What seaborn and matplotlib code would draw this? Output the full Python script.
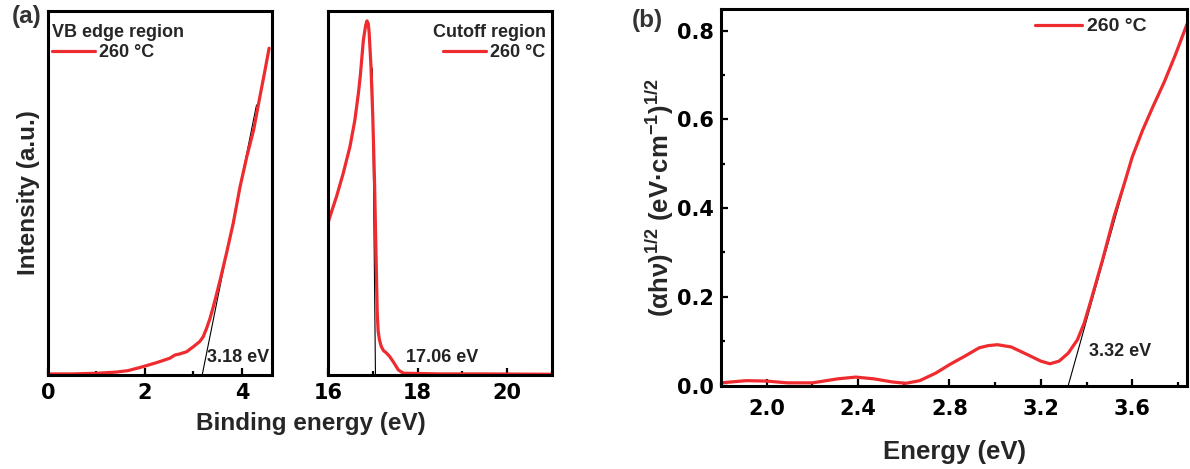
import numpy as np
import pandas as pd
import matplotlib
matplotlib.use("Agg")
import matplotlib.pyplot as plt
from matplotlib.ticker import MultipleLocator
import seaborn as sns

# ---- valence-band edge (UPS, low binding energy side) ----
vb_energy = [0.00, 0.50, 1.03, 1.40, 1.65, 1.96, 2.24, 2.51, 2.62, 2.72, 2.86,
             3.00, 3.13, 3.20, 3.27, 3.34, 3.41, 3.48, 3.55, 3.68, 3.82, 3.96,
             4.10, 4.24, 4.37, 4.47, 4.56]
vb_intensity = [0.003, 0.003, 0.005, 0.008, 0.012, 0.023, 0.034, 0.046, 0.055,
                0.058, 0.064, 0.078, 0.092, 0.105, 0.128, 0.155, 0.188, 0.224,
                0.261, 0.334, 0.417, 0.517, 0.600, 0.673, 0.765, 0.834, 0.898]
vb_onset = 3.18
vb_fit_end = [4.30, 0.742]

# ---- secondary-electron cutoff ----
co_energy = [16.00, 16.03, 16.19, 16.34, 16.49, 16.60, 16.68, 16.72, 16.79,
             16.84, 16.87, 16.90, 16.92, 16.96, 17.00, 17.04, 17.07, 17.10,
             17.12, 17.15, 17.19, 17.24, 17.30, 17.37, 17.42, 17.48, 17.57,
             17.68, 18.50, 19.50, 21.00]
co_intensity = [0.415, 0.430, 0.490, 0.554, 0.627, 0.700, 0.775, 0.820, 0.920,
                0.960, 0.973, 0.965, 0.939, 0.847, 0.710, 0.526, 0.343, 0.169,
                0.120, 0.096, 0.078, 0.067, 0.061, 0.052, 0.043, 0.032, 0.014,
                0.005, 0.003, 0.003, 0.002]
co_onset = 17.06
co_fit_end = [16.99, 0.843]

# ---- Tauc plot ----
tauc_energy = [1.80, 1.91, 2.00, 2.09, 2.20, 2.31, 2.39, 2.47, 2.55, 2.61,
               2.67, 2.74, 2.80, 2.87, 2.93, 2.97, 3.01, 3.07, 3.14, 3.20,
               3.24, 3.28, 3.32, 3.36, 3.39, 3.42, 3.47, 3.52, 3.57, 3.60,
               3.645, 3.69, 3.74, 3.79, 3.84]
tauc_value = [0.006, 0.011, 0.010, 0.006, 0.006, 0.015, 0.019, 0.015, 0.008,
              0.005, 0.011, 0.028, 0.047, 0.067, 0.085, 0.090, 0.092, 0.087,
              0.070, 0.055, 0.049, 0.055, 0.073, 0.103, 0.141, 0.193, 0.283,
              0.380, 0.463, 0.515, 0.575, 0.628, 0.684, 0.747, 0.815]
tauc_onset = 3.32
tauc_fit_end = [3.60, 0.515]

series_label = "260 °C"
red = "#EE2B2E"

sns.set_theme(style="ticks")
plt.rcParams["font.family"] = ["Liberation Sans", "DejaVu Sans"]
plt.rcParams["font.weight"] = "bold"
plt.rcParams["axes.labelweight"] = "bold"
plt.rcParams["mathtext.fontset"] = "custom"
plt.rcParams["mathtext.rm"] = "Liberation Sans:bold"
plt.rcParams["mathtext.bf"] = "Liberation Sans:bold"
plt.rcParams["mathtext.it"] = "Liberation Sans:italic:bold"
plt.rcParams["mathtext.default"] = "rm"

fig = plt.figure(figsize=(11.9, 4.69), dpi=100)
ax_vb = fig.add_axes([0.0403, 0.2004, 0.1883, 0.776])
ax_co = fig.add_axes([0.2756, 0.2004, 0.1883, 0.776])
ax_tc = fig.add_axes([0.6059, 0.178, 0.3916, 0.8028])

df_vb = pd.DataFrame({"E": vb_energy, "I": vb_intensity})
df_co = pd.DataFrame({"E": co_energy, "I": co_intensity})
df_tc = pd.DataFrame({"E": tauc_energy, "T": tauc_value})

line_kw = dict(color=red, linewidth=2.3, label=series_label)
sns.lineplot(data=df_vb, x="E", y="I", ax=ax_vb, **line_kw)
sns.lineplot(data=df_co, x="E", y="I", ax=ax_co, **line_kw)
sns.lineplot(data=df_tc, x="E", y="T", ax=ax_tc, **line_kw)

# linear extrapolations to the baseline
fit_kw = dict(color="black", linewidth=0.8, zorder=1)
ax_vb.plot([vb_onset, vb_fit_end[0]], [0, vb_fit_end[1]], **fit_kw)
ax_co.plot([co_onset, co_fit_end[0]], [0, co_fit_end[1]], **fit_kw)
ax_tc.plot([tauc_onset, tauc_fit_end[0]], [0, tauc_fit_end[1]], **fit_kw)

ann_kw = dict(fontsize=13, fontweight="bold", color="#222222")
ax_vb.text(vb_onset + 0.10, 0.035, f"{vb_onset:.2f} eV", **ann_kw)
ax_co.text(co_onset + 0.68, 0.035, f"{co_onset:.2f} eV", **ann_kw)
ax_tc.text(tauc_onset + 0.09, 0.077, f"{tauc_onset:.2f} eV", va="center", **ann_kw)

for ax in (ax_vb, ax_co, ax_tc):
    for s in ax.spines.values():
        s.set_visible(True)
        s.set_linewidth(2.2)
        s.set_color("black")
    ax.tick_params(which="both", direction="in", top=False, right=False,
                   width=1.6, labelsize=15, colors="black",
                   labelfontfamily="DejaVu Sans")
    ax.tick_params(which="major", length=5)
    ax.tick_params(which="minor", length=3)
    ax.set_xlabel("")
    ax.set_ylabel("")

ax_vb.set_xlim(0, 4.62)
ax_vb.set_ylim(0, 1.0)
ax_vb.xaxis.set_major_locator(MultipleLocator(2))
ax_vb.xaxis.set_minor_locator(MultipleLocator(1))
ax_vb.set_yticks([])
ax_vb.tick_params(axis="x", pad=6)
ax_vb.set_ylabel("Intensity (a.u.)", fontsize=17.5, labelpad=6)

ax_co.set_xlim(16, 21)
ax_co.set_ylim(0, 1.0)
ax_co.xaxis.set_major_locator(MultipleLocator(2))
ax_co.xaxis.set_minor_locator(MultipleLocator(1))
ax_co.set_yticks([])
ax_co.tick_params(axis="x", pad=6)

ax_tc.set_xlim(1.8, 3.84)
ax_tc.set_ylim(0, 0.849)
ax_tc.xaxis.set_major_locator(MultipleLocator(0.4))
ax_tc.xaxis.set_minor_locator(MultipleLocator(0.2))
ax_tc.yaxis.set_major_locator(MultipleLocator(0.2))
ax_tc.yaxis.set_minor_locator(MultipleLocator(0.1))
ax_tc.tick_params(axis="x", pad=10)
ax_tc.tick_params(axis="y", pad=5)
ax_tc.set_xlabel("Energy (eV)", fontsize=18.5, labelpad=15)
ax_tc.set_ylabel("(αhν)$^{1/2}$ (eV·cm$^{-1}$)$^{1/2}$", fontsize=18.5)
ax_tc.yaxis.set_label_coords(-0.097, 0.5)

fig.text(0.2613, 0.083, "Binding energy (eV)", ha="center", va="baseline",
         fontsize=17.5, fontweight="bold")

leg_a = dict(frameon=False, fontsize=13, title_fontproperties={"weight": "bold", "size": 13},
             handlelength=2.4, handletextpad=0.25, borderaxespad=0.0, borderpad=0.2,
             labelspacing=0.2)
leg_b = dict(leg_a, fontsize=14, handlelength=2.4)
ax_vb.legend(loc="upper left", bbox_to_anchor=(0.0, 0.975), alignment="left",
             title="VB edge region", **leg_a)
ax_co.legend(loc="upper right", bbox_to_anchor=(0.988, 0.975), alignment="right",
             title="Cutoff region", **leg_a)
ax_tc.legend(loc="upper right", bbox_to_anchor=(0.921, 0.987), **leg_b)

fig.text(0.010, 0.950, "(a)", fontsize=17.5, fontweight="bold", color="#333333")
fig.text(0.531, 0.942, "(b)", fontsize=17.5, fontweight="bold", color="#333333")

fig.savefig("out.png", dpi=100)
